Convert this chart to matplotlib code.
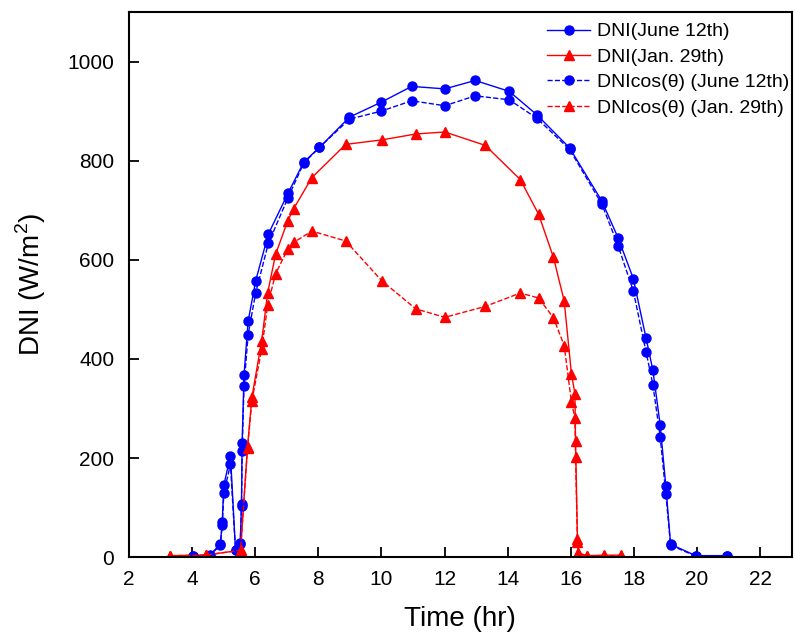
from matplotlib import pyplot as plt

# June 12th, shared measuring times for both blue series
june_t = [4.03, 4.56, 4.90, 4.96, 5.01, 5.22, 5.38, 5.53, 5.57, 5.59, 5.65, 5.78,
          6.02, 6.42, 7.04, 7.54, 8.04, 8.99, 9.99, 10.96, 12.01, 12.97, 14.05, 14.92,
          15.96, 16.98, 17.50, 17.98, 18.38, 18.60, 18.83, 19.01, 19.16, 19.96, 20.95]
june_dni = [3, 4, 26, 71, 145, 205, 15, 29, 108, 231, 368, 476,
            558, 652, 734, 797, 827, 888, 918, 950, 945, 962, 940, 893,
            826, 719, 644, 562, 443, 377, 267, 143, 26, 3, 3]
june_cos = [2, 3, 24, 64, 129, 187, 14, 27, 103, 215, 346, 449,
            534, 633, 725, 795, 827, 884, 900, 921, 911, 931, 923, 886,
            823, 713, 628, 537, 415, 348, 243, 128, 24, 2, 2]

# Jan. 29th
jan_t = [3.32, 4.43, 5.54, 5.76, 5.90, 6.21, 6.40, 6.65, 7.03, 7.22, 7.80, 8.87,
         10.01, 11.09, 12.01, 13.29, 14.40, 14.98, 15.45, 15.79, 16.02, 16.13, 16.15,
         16.21, 16.23, 16.50, 17.04, 17.60]
jan_dni = [3, 4, 14, 222, 323, 437, 534, 611, 678, 703, 766, 833,
           842, 854, 858, 831, 762, 692, 605, 517, 370, 330, 234,
           36, 9, 3, 4, 4]
jan_cos = [3, 4, 14, 220, 316, 420, 509, 572, 621, 635, 658, 638,
           558, 501, 484, 506, 533, 523, 483, 427, 313, 281, 202,
           30, 8, 2, 3, 3]

x_ticks = list(range(2, 24, 2))
y_ticks = list(range(0, 1200, 200))

plt.rcParams['font.family'] = ['Liberation Sans', 'DejaVu Sans']
plt.rcParams['mathtext.fontset'] = 'custom'
plt.rcParams['mathtext.rm'] = 'Liberation Sans'

fig = plt.figure(figsize=(7.95, 6.36), dpi=100)
ax = fig.add_axes([0.162, 0.124, 0.834, 0.857])

ax.plot(june_t, june_dni, '-', color='#0000ff', marker='o', markersize=6.5, linewidth=1,
        label='DNI(June 12th)')
ax.plot(jan_t, jan_dni, '-', color='#ff0000', marker='^', markersize=7, linewidth=1,
        label='DNI(Jan. 29th)')
ax.plot(june_t, june_cos, '--', color='#0000ff', marker='o', markersize=6.5, linewidth=1,
        label='DNIcos(θ) (June 12th)')
ax.plot(jan_t, jan_cos, '--', color='#ff0000', marker='^', markersize=7, linewidth=1,
        label='DNIcos(θ) (Jan. 29th)')

ax.set_xlim(2, 23)
ax.set_ylim(0, 1100)
ax.set_xticks(x_ticks)
ax.set_yticks(y_ticks)
ax.tick_params(direction='in', length=7, width=1.3, labelsize=15, top=False, right=False)
ax.tick_params(axis='x', pad=9.5)
ax.tick_params(axis='y', pad=10.5)
for s in ax.spines.values():
    s.set_linewidth(1.5)

ax.set_xlabel('Time (hr)', fontsize=20, labelpad=12)
ax.set_ylabel('DNI (W/m$^2$)', fontsize=20, labelpad=14)

ax.legend(loc='upper right', bbox_to_anchor=(1.012, 1.0), frameon=False, fontsize=14,
          numpoints=1, handlelength=2.2, borderaxespad=0.15, labelspacing=0.4,
          handletextpad=0.35)

fig.savefig('out.png', dpi=100)
